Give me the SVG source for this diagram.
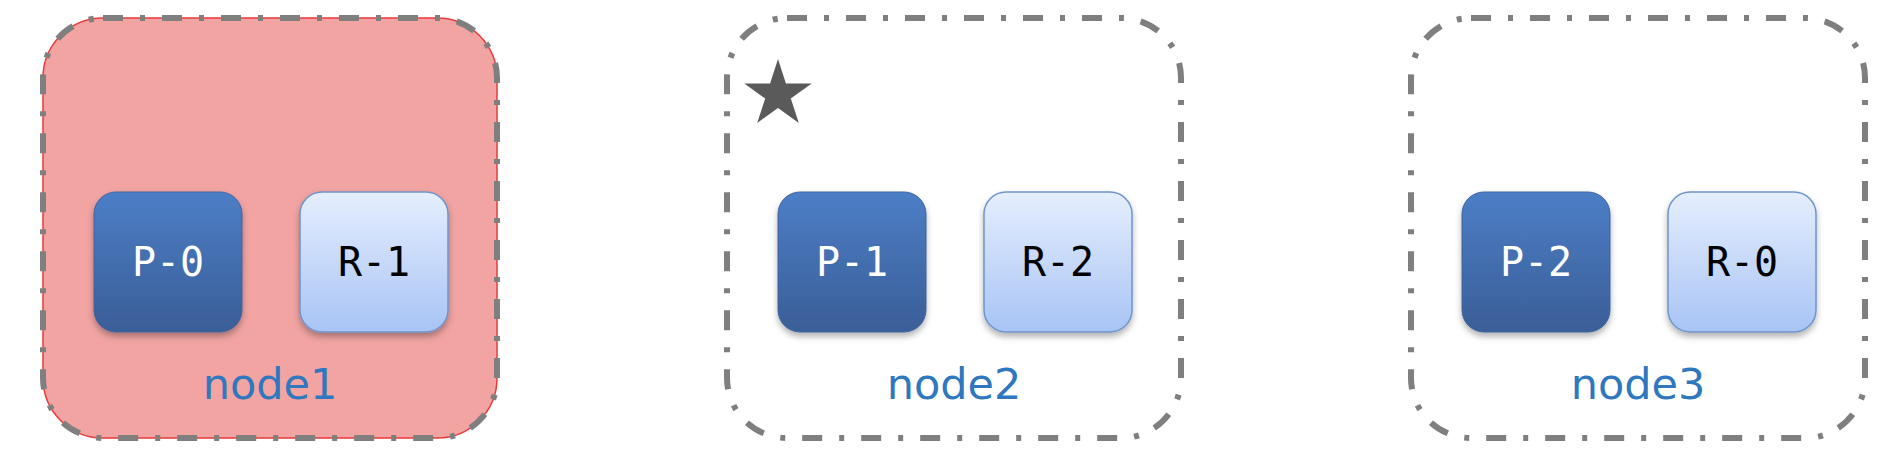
<svg xmlns="http://www.w3.org/2000/svg" width="1882" height="472" viewBox="0 0 1882 472">
<style>
.frame{fill:none;stroke:#7f7f7f;stroke-width:6;stroke-dasharray:20 17 5 17;}
.p{fill:url(#gp);stroke:#3d639e;stroke-width:1;filter:url(#sh);}
.r{fill:url(#gr);stroke:#6f94cc;stroke-width:1.5;filter:url(#sh);}
.pt{font-family:"DejaVu Sans Mono",monospace;font-size:40px;fill:#ffffff;text-anchor:middle;}
.rt{font-family:"DejaVu Sans Mono",monospace;font-size:40px;fill:#000000;text-anchor:middle;}
.lbl{font-family:"DejaVu Sans",sans-serif;font-size:43px;fill:#2f77bf;text-anchor:middle;}
</style>
<defs>
<linearGradient id="gp" x1="0" y1="0" x2="0" y2="1">
<stop offset="0" stop-color="#4c7ec6"/>
<stop offset="1" stop-color="#3a5e97"/>
</linearGradient>
<linearGradient id="gr" x1="0" y1="0" x2="0" y2="1">
<stop offset="0" stop-color="#e5eefd"/>
<stop offset="1" stop-color="#a8c4f5"/>
</linearGradient>
<filter id="sh" x="-20%" y="-20%" width="140%" height="150%">
<feDropShadow dx="0" dy="4" stdDeviation="3" flood-color="#000" flood-opacity="0.3"/>
</filter>
</defs>
<g id="node1">
<rect x="43" y="18" width="454" height="420" rx="60" fill="#f1a4a2" stroke="#e83a3a" stroke-width="1.5"/>
<rect class="frame" x="43" y="18" width="454" height="420" rx="60"/>
<g id="P-0"><rect class="p" x="94" y="192" width="148" height="140" rx="22"/><text class="pt" x="168" y="276">P-0</text></g>
<g id="R-1"><rect class="r" x="300" y="192" width="148" height="140" rx="22"/><text class="rt" x="374" y="276">R-1</text></g>
<text class="lbl" x="270" y="399">node1</text>
</g>
<g id="node2">
<rect class="frame" x="727" y="18" width="454" height="420" rx="60"/>
<polygon fill="#5a5a5a" points="778,59 785.9,83.5 811.7,83.5 790.8,98.6 798.8,123 778,107.9 757.2,123 765.2,98.6 744.3,83.5 770.1,83.5"/>
<g id="P-1"><rect class="p" x="778" y="192" width="148" height="140" rx="22"/><text class="pt" x="852" y="276">P-1</text></g>
<g id="R-2"><rect class="r" x="984" y="192" width="148" height="140" rx="22"/><text class="rt" x="1058" y="276">R-2</text></g>
<text class="lbl" x="954" y="399">node2</text>
</g>
<g id="node3">
<rect class="frame" x="1411" y="18" width="454" height="420" rx="60"/>
<g id="P-2"><rect class="p" x="1462" y="192" width="148" height="140" rx="22"/><text class="pt" x="1536" y="276">P-2</text></g>
<g id="R-0"><rect class="r" x="1668" y="192" width="148" height="140" rx="22"/><text class="rt" x="1742" y="276">R-0</text></g>
<text class="lbl" x="1638" y="399">node3</text>
</g>
<g id="connectors"></g>
</svg>
